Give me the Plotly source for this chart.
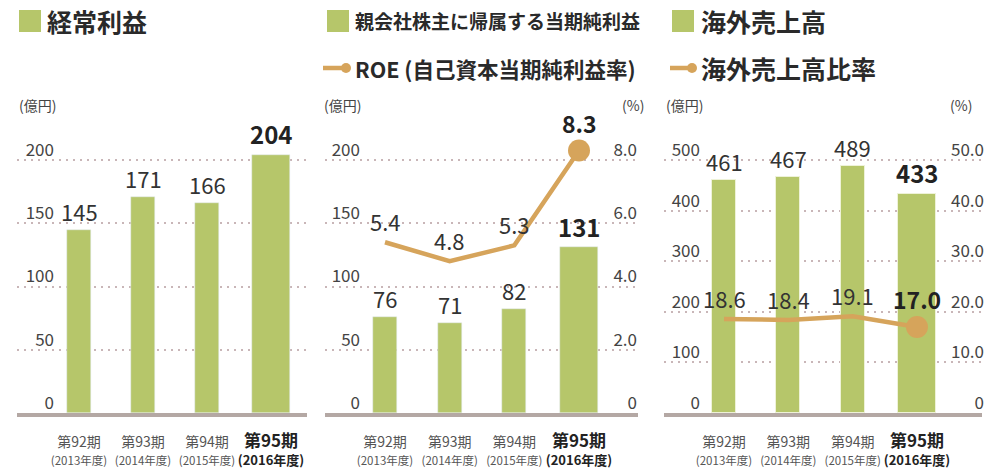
import plotly.graph_objects as go

# ---------------- data ----------------
periods = ["第92期", "第93期", "第94期", "第95期"]
years = ["2013年度", "2014年度", "2015年度", "2016年度"]

ordinary_profit = [145, 171, 166, 204]          # 経常利益 (億円)
net_income = [76, 71, 82, 131]                  # 親会社株主に帰属する当期純利益 (億円)
roe = [5.4, 4.8, 5.3, 8.3]                      # ROE (%)
overseas_sales = [461, 467, 489, 433]           # 海外売上高 (億円)
overseas_ratio = [18.6, 18.4, 19.1, 17.0]       # 海外売上高比率 (%)

left_ticks_200 = [0, 50, 100, 150, 200]
left_ticks_500 = [0, 100, 200, 300, 400, 500]
right_ticks_roe = [0, 2, 4, 6, 8]
right_text_roe = ["0", "2.0", "4.0", "6.0", "8.0"]
right_ticks_ratio = [0, 10, 20, 30, 40, 50]
right_text_ratio = ["0", "10.0", "20.0", "30.0", "40.0", "50.0"]

titles = ["経常利益", "親会社株主に帰属する当期純利益", "海外売上高"]
line_titles = ["ROE (自己資本当期純利益率)", "海外売上高比率"]

# ---------------- style / layout constants ----------------
W, H = 987, 469
TOP, BOTTOM = 100, 413
PH = BOTTOM - TOP
BAR = "#B6C66A"
LINE = "#D6A45B"
GRID = "#C9B6B8"
BASE = "#B4A8A4"
TXT = "#2A2A2A"
TICK = "#444444"
FONT = "Noto Sans CJK JP, Noto Sans, sans-serif"

# panel pixel geometry: left, right, first centre, step
panels = [(17, 307, 79, 64.0), (325, 638, 385, 64.67), (664, 982, 724, 64.33)]


def px(x):
    return x / W


def py(y):
    return (BOTTOM - y) / PH


def xrange_of(p):
    l, r, c0, st = p
    return [(l - c0) / st, (r - c0) / st]


def widths(p):
    st = p[3]
    return [24 / st, 24 / st, 24 / st, 38 / st]


xs = list(range(len(periods)))


def xtick_text():
    out = []
    n = len(periods)
    for i, (p, y) in enumerate(zip(periods, years)):
        if i == n - 1:
            out.append(f'<b><span style="font-size:17px;color:#222">{p}</span></b><br>'
                       f'<b><span style="font-size:13px;color:#222">({y})</span></b>')
        else:
            out.append(f'<span style="font-size:14px">{p}</span><br>'
                       f'<span style="font-size:11.5px">({y})</span>')
    return out


fig = go.Figure()

# bars
fig.add_trace(go.Bar(x=xs, y=ordinary_profit, width=widths(panels[0]), marker_color=BAR,
                     xaxis="x", yaxis="y", showlegend=False, hoverinfo="skip"))
fig.add_trace(go.Bar(x=xs, y=net_income, width=widths(panels[1]), marker_color=BAR,
                     xaxis="x2", yaxis="y2", showlegend=False, hoverinfo="skip"))
fig.add_trace(go.Bar(x=xs, y=overseas_sales, width=widths(panels[2]), marker_color=BAR,
                     marker_line=dict(color="#EEF2D8", width=1),
                     xaxis="x3", yaxis="y4", showlegend=False, hoverinfo="skip"))

# lines
msize = [0, 0, 0, 22]
for xa, ya, vals in [("x2", "y3", roe), ("x3", "y5", overseas_ratio)]:
    fig.add_trace(go.Scatter(x=xs, y=vals, mode="lines+markers", line=dict(color=LINE, width=4.5),
                             marker=dict(size=msize, color=LINE, opacity=1, line=dict(width=0)),
                             opacity=1, xaxis=xa, yaxis=ya,
                             showlegend=False, hoverinfo="skip", cliponaxis=False))

# ranges
r200 = [0, PH / (253 / 200)]
r500 = [0, PH / (253 / 500)]
r_roe = [0, r200[1] / 25]
r_ratio = [0, r500[1] / 10]

xcommon = dict(showgrid=False, zeroline=False, showline=True, linecolor=BASE, linewidth=4,
               tickvals=xs, ticktext=xtick_text(), ticks="", tickfont=dict(size=14, color="#555"),
               ticklabelstandoff=13, fixedrange=True)
ycommon = dict(showgrid=True, gridcolor=GRID, griddash="2px,5px", gridwidth=2, zeroline=False,
               showline=False, ticks="", tickfont=dict(size=17, color=TICK), ticklabelshift=-10,
               fixedrange=True)
yright = dict(showgrid=False, zeroline=False, showline=False, ticks="", side="left", anchor="free",
              ticklabelshift=-10, tickfont=dict(size=17, color=TICK), fixedrange=True)

fig.update_layout(
    xaxis=dict(domain=[px(17), px(307)], range=xrange_of(panels[0]), anchor="y", **xcommon),
    xaxis2=dict(domain=[px(325), px(638)], range=xrange_of(panels[1]), anchor="y2", **xcommon),
    xaxis3=dict(domain=[px(664), px(982)], range=xrange_of(panels[2]), anchor="y4", **xcommon),
    yaxis=dict(range=r200, tickvals=left_ticks_200, anchor="free", position=px(54), **ycommon),
    yaxis2=dict(range=r200, tickvals=left_ticks_200, anchor="free", position=px(360), **ycommon),
    yaxis3=dict(range=r_roe, tickvals=right_ticks_roe, ticktext=right_text_roe, overlaying="y2",
                position=px(637), **yright),
    yaxis4=dict(range=r500, tickvals=left_ticks_500, anchor="free", position=px(700), **ycommon),
    yaxis5=dict(range=r_ratio, tickvals=right_ticks_ratio, ticktext=right_text_ratio, overlaying="y4",
                position=px(984), **yright),
    width=W, height=H,
    margin=dict(l=0, r=0, t=TOP, b=H - BOTTOM, pad=0),
    paper_bgcolor="white", plot_bgcolor="white",
    font=dict(family=FONT, color=TXT),
    bargap=0, barmode="overlay",
)

ann = []
# bar value labels
for xa, ya, vals in [("x", "y", ordinary_profit), ("x2", "y2", net_income), ("x3", "y4", overseas_sales)]:
    n = len(vals)
    for i, v in enumerate(vals):
        last = i == n - 1
        ann.append(dict(x=xs[i], y=v, xref=xa, yref=ya, text=f"<b>{v}</b>" if last else f"{v}",
                        showarrow=False, yanchor="middle", yshift=21 if last else 19,
                        font=dict(size=24 if last else 22, color="#222" if last else "#333")))
# line value labels
for xa, ya, vals in [("x2", "y3", roe), ("x3", "y5", overseas_ratio)]:
    n = len(vals)
    for i, v in enumerate(vals):
        last = i == n - 1
        ann.append(dict(x=xs[i], y=v, xref=xa, yref=ya, text=f"<b>{v:.1f}</b>" if last else f"{v:.1f}",
                        showarrow=False, yanchor="middle", yshift=28 if last else 21,
                        font=dict(size=23 if last else 22, color="#222" if last else "#333")))

# titles / legends
ann.append(dict(x=px(45), y=py(21), xref="paper", yref="paper", xanchor="left", yanchor="middle",
                text=f"<b>{titles[0]}</b>", showarrow=False, font=dict(size=25, color=TXT)))
ann.append(dict(x=px(353), y=py(21), xref="paper", yref="paper", xanchor="left", yanchor="middle",
                text=f"<b>{titles[1]}</b>", showarrow=False, font=dict(size=19, color=TXT)))
ann.append(dict(x=px(699), y=py(21), xref="paper", yref="paper", xanchor="left", yanchor="middle",
                text=f"<b>{titles[2]}</b>", showarrow=False, font=dict(size=25, color=TXT)))
ann.append(dict(x=px(353), y=py(68), xref="paper", yref="paper", xanchor="left", yanchor="middle",
                text=f"<b>{line_titles[0]}</b>", showarrow=False, font=dict(size=21.5, color=TXT)))
ann.append(dict(x=px(699), y=py(68), xref="paper", yref="paper", xanchor="left", yanchor="middle",
                text=f"<b>{line_titles[1]}</b>", showarrow=False, font=dict(size=25, color=TXT)))

# unit labels
for xpos, anchor, t in [(17, "left", "(億円)"), (322, "left", "(億円)"), (646, "right", "(%)"),
                        (664, "left", "(億円)"), (974, "right", "(%)")]:
    ann.append(dict(x=px(xpos), y=py(105), xref="paper", yref="paper", xanchor=anchor, yanchor="middle",
                    text=t, showarrow=False, font=dict(size=14, color=TICK)))

shapes = []
for x0 in [19, 327, 672]:
    shapes.append(dict(type="rect", xref="paper", yref="paper", x0=px(x0), x1=px(x0 + 22),
                       y0=py(32), y1=py(10), fillcolor=BAR, line=dict(width=0)))
for lx0, lx1 in [(323, 346), (670, 692)]:
    shapes.append(dict(type="line", xref="paper", yref="paper", x0=px(lx0), x1=px(lx1),
                       y0=py(68), y1=py(68), line=dict(color=LINE, width=4.5)))
    shapes.append(dict(type="circle", xref="paper", yref="paper", x0=px(lx1 - 5), x1=px(lx1 + 5),
                       y0=py(73), y1=py(63), fillcolor=LINE, line=dict(width=0)))

fig.update_layout(annotations=ann, shapes=shapes)
fig.write_html("out.html", config={"displayModeBar": False},
               post_script="document.body.style.margin='0';")
